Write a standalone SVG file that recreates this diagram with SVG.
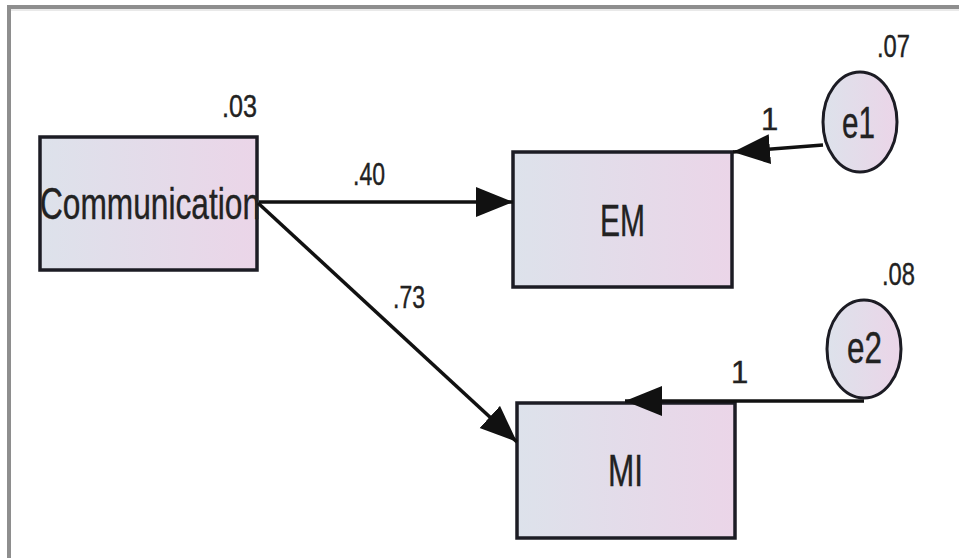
<svg xmlns="http://www.w3.org/2000/svg" width="959" height="558" viewBox="0 0 959 558">
  <defs>
    <linearGradient id="fillGrad" x1="0" y1="0" x2="1" y2="0">
      <stop offset="0" stop-color="#dde2eb"/>
      <stop offset="1" stop-color="#ebd5e8"/>
    </linearGradient>
    <marker id="arrow" markerUnits="userSpaceOnUse" markerWidth="40" markerHeight="32" refX="37" refY="15" orient="auto">
      <path d="M0,0 L37,15 L0,30 Z" fill="#111"/>
    </marker>
    <style>
      .box { fill: url(#fillGrad); stroke: #1c1c24; stroke-width: 3.5; }
      .err { fill: url(#fillGrad); stroke: #1c1c24; stroke-width: 3; }
      .lbl { font-family: "Liberation Sans", Arial, sans-serif; fill: #222; stroke: #222; stroke-width: 0.4; }
      .big { font-size: 44px; }
      .num { font-size: 31px; }
      .edge { stroke: #111; stroke-width: 3.5; fill: none; marker-end: url(#arrow); }
    </style>
  </defs>

  <rect width="959" height="558" fill="#ffffff"/>

  <!-- frame -->
  <path d="M9,558 V7 H959" stroke="#8e8e8e" stroke-width="4" fill="none"/>
  <line x1="11" y1="10" x2="959" y2="10" stroke="#d4d4d4" stroke-width="1"/>

  <g id="communication">
    <rect class="box" x="40" y="137" width="217" height="133"/>
    <text class="lbl big" x="40" y="219" textLength="220" lengthAdjust="spacingAndGlyphs">Communication</text>
    <text class="lbl num" x="222" y="117" textLength="35" lengthAdjust="spacingAndGlyphs">.03</text>
  </g>

  <g id="em">
    <rect class="box" x="513" y="152" width="219" height="135"/>
    <text class="lbl big" x="600" y="236" textLength="45" lengthAdjust="spacingAndGlyphs">EM</text>
  </g>

  <g id="mi">
    <rect class="box" x="517" y="403" width="218" height="135"/>
    <text class="lbl big" x="608" y="486" textLength="35" lengthAdjust="spacingAndGlyphs">MI</text>
  </g>

  <g id="e1">
    <ellipse class="err" cx="860" cy="122" rx="37" ry="50"/>
    <text class="lbl big" x="842" y="138" textLength="33" lengthAdjust="spacingAndGlyphs">e1</text>
    <text class="lbl num" x="877" y="57" textLength="33" lengthAdjust="spacingAndGlyphs">.07</text>
  </g>

  <g id="e2">
    <ellipse class="err" cx="864" cy="349" rx="37" ry="49"/>
    <text class="lbl big" x="847" y="363" textLength="35" lengthAdjust="spacingAndGlyphs">e2</text>
    <text class="lbl num" x="882" y="285" textLength="33" lengthAdjust="spacingAndGlyphs">.08</text>
  </g>

  <!-- connectors -->
  <g id="connectors">
    <line class="edge" x1="259" y1="202" x2="513" y2="202"/>
    <line class="edge" x1="258" y1="203" x2="517" y2="442"/>
    <line class="edge" x1="823" y1="145" x2="733" y2="152"/>
    <line class="edge" x1="864" y1="401" x2="625" y2="401"/>
    <text class="lbl num" x="353" y="185" textLength="32" lengthAdjust="spacingAndGlyphs">.40</text>
    <text class="lbl num" x="393" y="308" textLength="32" lengthAdjust="spacingAndGlyphs">.73</text>
    <text class="lbl num" x="761" y="130">1</text>
    <text class="lbl num" x="731" y="383">1</text>
  </g>
</svg>
